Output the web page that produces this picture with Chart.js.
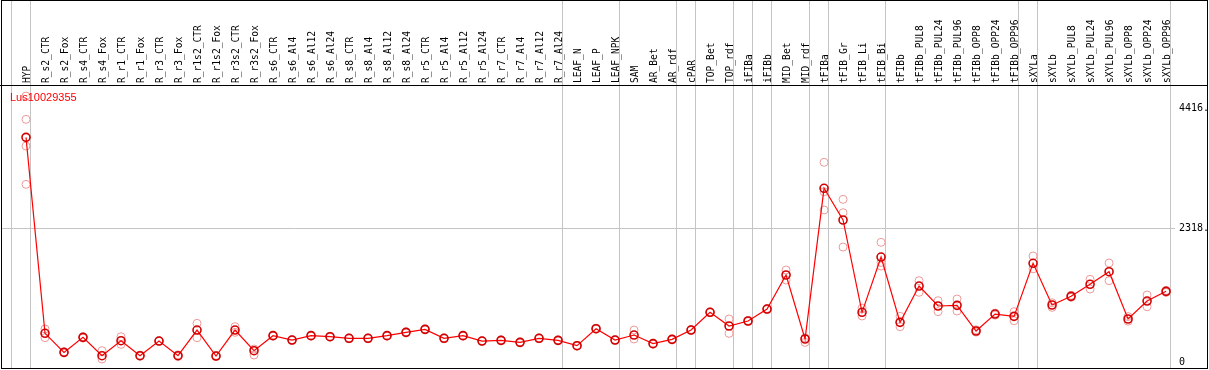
<!DOCTYPE html>
<html>
<head>
<meta charset="utf-8">
<script src="https://cdn.jsdelivr.net/npm/chart.js@4.4.0/dist/chart.umd.min.js"></script>
<style>
  body { margin: 0; background: #fff; }
  canvas { display: block; }
</style>
</head>
<body>
<canvas id="grafico" width="1209" height="370"></canvas>
<script>
// Datos
var nombreGen = "Lus10029355";

var categorias = ["HYP", "R_s2_CTR", "R_s2_Fox", "R_s4_CTR", "R_s4_Fox", "R_r1_CTR", "R_r1_Fox",
    "R_r3_CTR", "R_r3_Fox", "R_r1s2_CTR", "R_r1s2_Fox", "R_r3s2_CTR", "R_r3s2_Fox", "R_s6_CTR",
    "R_s6_Al4", "R_s6_Al12", "R_s6_Al24", "R_s8_CTR", "R_s8_Al4", "R_s8_Al12", "R_s8_Al24",
    "R_r5_CTR", "R_r5_Al4", "R_r5_Al12", "R_r5_Al24", "R_r7_CTR", "R_r7_Al4", "R_r7_Al12",
    "R_r7_Al24", "LEAF_N", "LEAF_P", "LEAF_NPK", "SAM", "AR_Bet", "AR_rdf", "cPAR", "TOP_Bet",
    "TOP_rdf", "iFIBa", "iFIBb", "MID_Bet", "MID_rdf", "tFIBa", "tFIB_Gr", "tFIB_Li", "tFIB_Bi",
    "tFIBb", "tFIBb_PUL8", "tFIBb_PUL24", "tFIBb_PUL96", "tFIBb_OPP8", "tFIBb_OPP24",
    "tFIBb_OPP96", "sXYLa", "sXYLb", "sXYLb_PUL8", "sXYLb_PUL24", "sXYLb_PUL96", "sXYLb_OPP8",
    "sXYLb_OPP24", "sXYLb_OPP96"];

// media de las réplicas
var medias = [3906, 499, 168, 429, 110, 371, 110, 365, 110, 556, 104, 556, 197, 458, 382, 458,
    440, 412, 412, 458, 516, 568, 412, 458, 365, 377, 342, 412, 377, 284, 579, 382, 469, 319,
    394, 556, 864, 626, 713, 921, 1513, 400, 3020, 2469, 864, 1825, 690, 1321, 974, 985, 539,
    834, 794, 1716, 991, 1142, 1351, 1570, 748, 1060, 1229];

// réplicas individuales (null = no visible)
var repA = [4624, 574, 176, 440, 197, 440, 120, 370, 125, 672, 115, 614, 226, 465, 390, 465,
    448, 420, 420, 465, 525, 575, 420, 465, 372, 385, 350, 420, 385, 292, 588, 390, 556, 327,
    402, 565, 872, 748, 722, 930, 1599, 420, 3472, 2828, 937, 2081, 794, 1414, 1066, 1095, 560,
    850, 875, 1843, 1030, 1160, 1438, 1721, 790, 1165, 1245];
var repB = [3089, 423, 160, 418, 52, 307, 100, 360, 95, 423, 95, 516, 122, 450, 374, 450,
    432, 404, 404, 450, 507, 560, 404, 450, 358, 370, 334, 404, 370, 276, 570, 374, 400, 311,
    386, 548, 856, 498, 705, 912, 1426, 342, 2643, 2596, 800, 1669, 614, 1212, 875, 887, 520,
    815, 718, 1620, 950, 1125, 1269, 1414, 710, 962, 1210];
var repC = [4219, null, null, null, null, null, null, null, null, null, null, null, null, null,
    null, null, null, null, null, null, null, null, null, null, null, null, null, null, null,
    null, null, null, null, null, null, null, null, null, null, null, null, null, 2960, 1999,
    null, 1730, null, null, null, null, null, null, null, null, null, null, null, null, null,
    null, null];
var repD = [3755, null, null, null, null, null, null, null, null, null, null, null, null, null,
    null, null, null, null, null, null, null, null, null, null, null, null, null, null, null,
    null, null, null, null, null, null, null, null, null, null, null, null, null, null, null,
    null, null, null, null, null, null, null, null, null, null, null, null, null, null, null,
    null, null];

// índices donde empieza cada grupo de muestras
var grupos = [0, 1, 29, 32, 35, 36, 38, 39, 40, 42, 43, 46, 53, 54, 61];

var ticksY = [0, 2318, 4416];
var etiquetasY = ["0", "2318.", "4416."];

function puntos(arr) {
    var res = [];
    arr.forEach(function (v, i) {
        if (v !== null) res.push({ x: i, y: v });
    });
    return res;
}

function replica(arr) {
    return {
        data: puntos(arr),
        showLine: false,
        pointStyle: "circle",
        pointRadius: 4,
        pointBorderWidth: 1,
        pointBorderColor: "#ee9a9a",
        pointBackgroundColor: "rgba(0,0,0,0)",
        order: 1,
    };
}

function sinRelleno(scale) {
    scale.paddingLeft = 0;
    scale.paddingRight = 0;
    scale.paddingTop = 0;
    scale.paddingBottom = 0;
}

// líneas grises de separación de grupos, marco y nombre del gen
var marcoPlugin = {
    id: "marco",
    beforeDatasetsDraw: function (chart) {
        var c = chart.ctx;
        var x = chart.scales.x;
        c.save();
        c.strokeStyle = "#c4c4c4";
        c.lineWidth = 1;
        grupos.forEach(function (g) {
            var px = Math.round(x.getPixelForValue(g - 0.79)) + 0.5;
            c.beginPath();
            c.moveTo(px, 0);
            c.lineTo(px, chart.chartArea.bottom);
            c.stroke();
        });
        c.restore();
    },
    afterDraw: function (chart) {
        var c = chart.ctx;
        var a = chart.chartArea;
        c.save();
        c.strokeStyle = "#000";
        c.lineWidth = 1;
        c.strokeRect(1.5, 0.5, chart.width - 3, a.bottom);
        c.beginPath();
        c.moveTo(0, a.top + 0.5);
        c.lineTo(chart.width - 1, a.top + 0.5);
        c.stroke();
        c.fillStyle = "#ff0000";
        c.font = "11px 'Liberation Sans', sans-serif";
        c.textBaseline = "top";
        c.fillText(nombreGen, 10, a.top + 7);
        c.restore();
    },
};

var ctx = document.getElementById("grafico").getContext("2d");
var myChart = new Chart(ctx, {
    type: "line",
    data: {
        datasets: [
            {
                data: puntos(medias),
                borderColor: "#ff0000",
                borderWidth: 1.2,
                tension: 0,
                pointStyle: "circle",
                pointRadius: 4,
                pointBorderWidth: 1.6,
                pointBorderColor: "#d00000",
                pointBackgroundColor: "rgba(0,0,0,0)",
                order: 0,
            },
            replica(repA),
            replica(repB),
            replica(repC),
            replica(repD),
        ],
    },
    options: {
        responsive: false,
        animation: false,
        clip: false,
        layout: { autoPadding: false, padding: { left: 1, right: 0, top: 0, bottom: 2 } },
        plugins: { legend: { display: false }, tooltip: { enabled: false } },
        scales: {
            x: {
                type: "linear",
                position: "top",
                min: -1.316,
                max: 60.47,
                afterBuildTicks: function (scale) {
                    scale.ticks = categorias.map(function (c, i) { return { value: i }; });
                },
                afterFit: function (scale) {
                    scale.height = 85;
                    sinRelleno(scale);
                },
                grid: { display: false, drawTicks: false },
                border: { display: false },
                ticks: {
                    autoSkip: false,
                    minRotation: 90,
                    maxRotation: 90,
                    padding: 2,
                    labelOffset: 13,
                    color: "#000",
                    font: { family: "'DejaVu Sans Mono', monospace", size: 9.6 },
                    callback: function (value) {
                        return categorias[value];
                    },
                },
            },
            y: {
                type: "linear",
                position: "right",
                min: -104,
                max: 4816,
                afterBuildTicks: function (scale) {
                    scale.ticks = ticksY.map(function (v) { return { value: v }; });
                },
                afterFit: function (scale) {
                    scale.width = 34;
                    sinRelleno(scale);
                },
                grid: {
                    drawTicks: false,
                    color: function (c) {
                        return c.tick && c.tick.value === ticksY[1] ? "#c4c4c4" : "rgba(0,0,0,0)";
                    },
                },
                border: { display: false },
                ticks: {
                    padding: 4,
                    color: "#000",
                    font: { family: "'DejaVu Sans Mono', monospace", size: 10 },
                    callback: function (value) {
                        return etiquetasY[ticksY.indexOf(value)];
                    },
                },
            },
        },
    },
    plugins: [marcoPlugin],
});
</script>
</body>
</html>
